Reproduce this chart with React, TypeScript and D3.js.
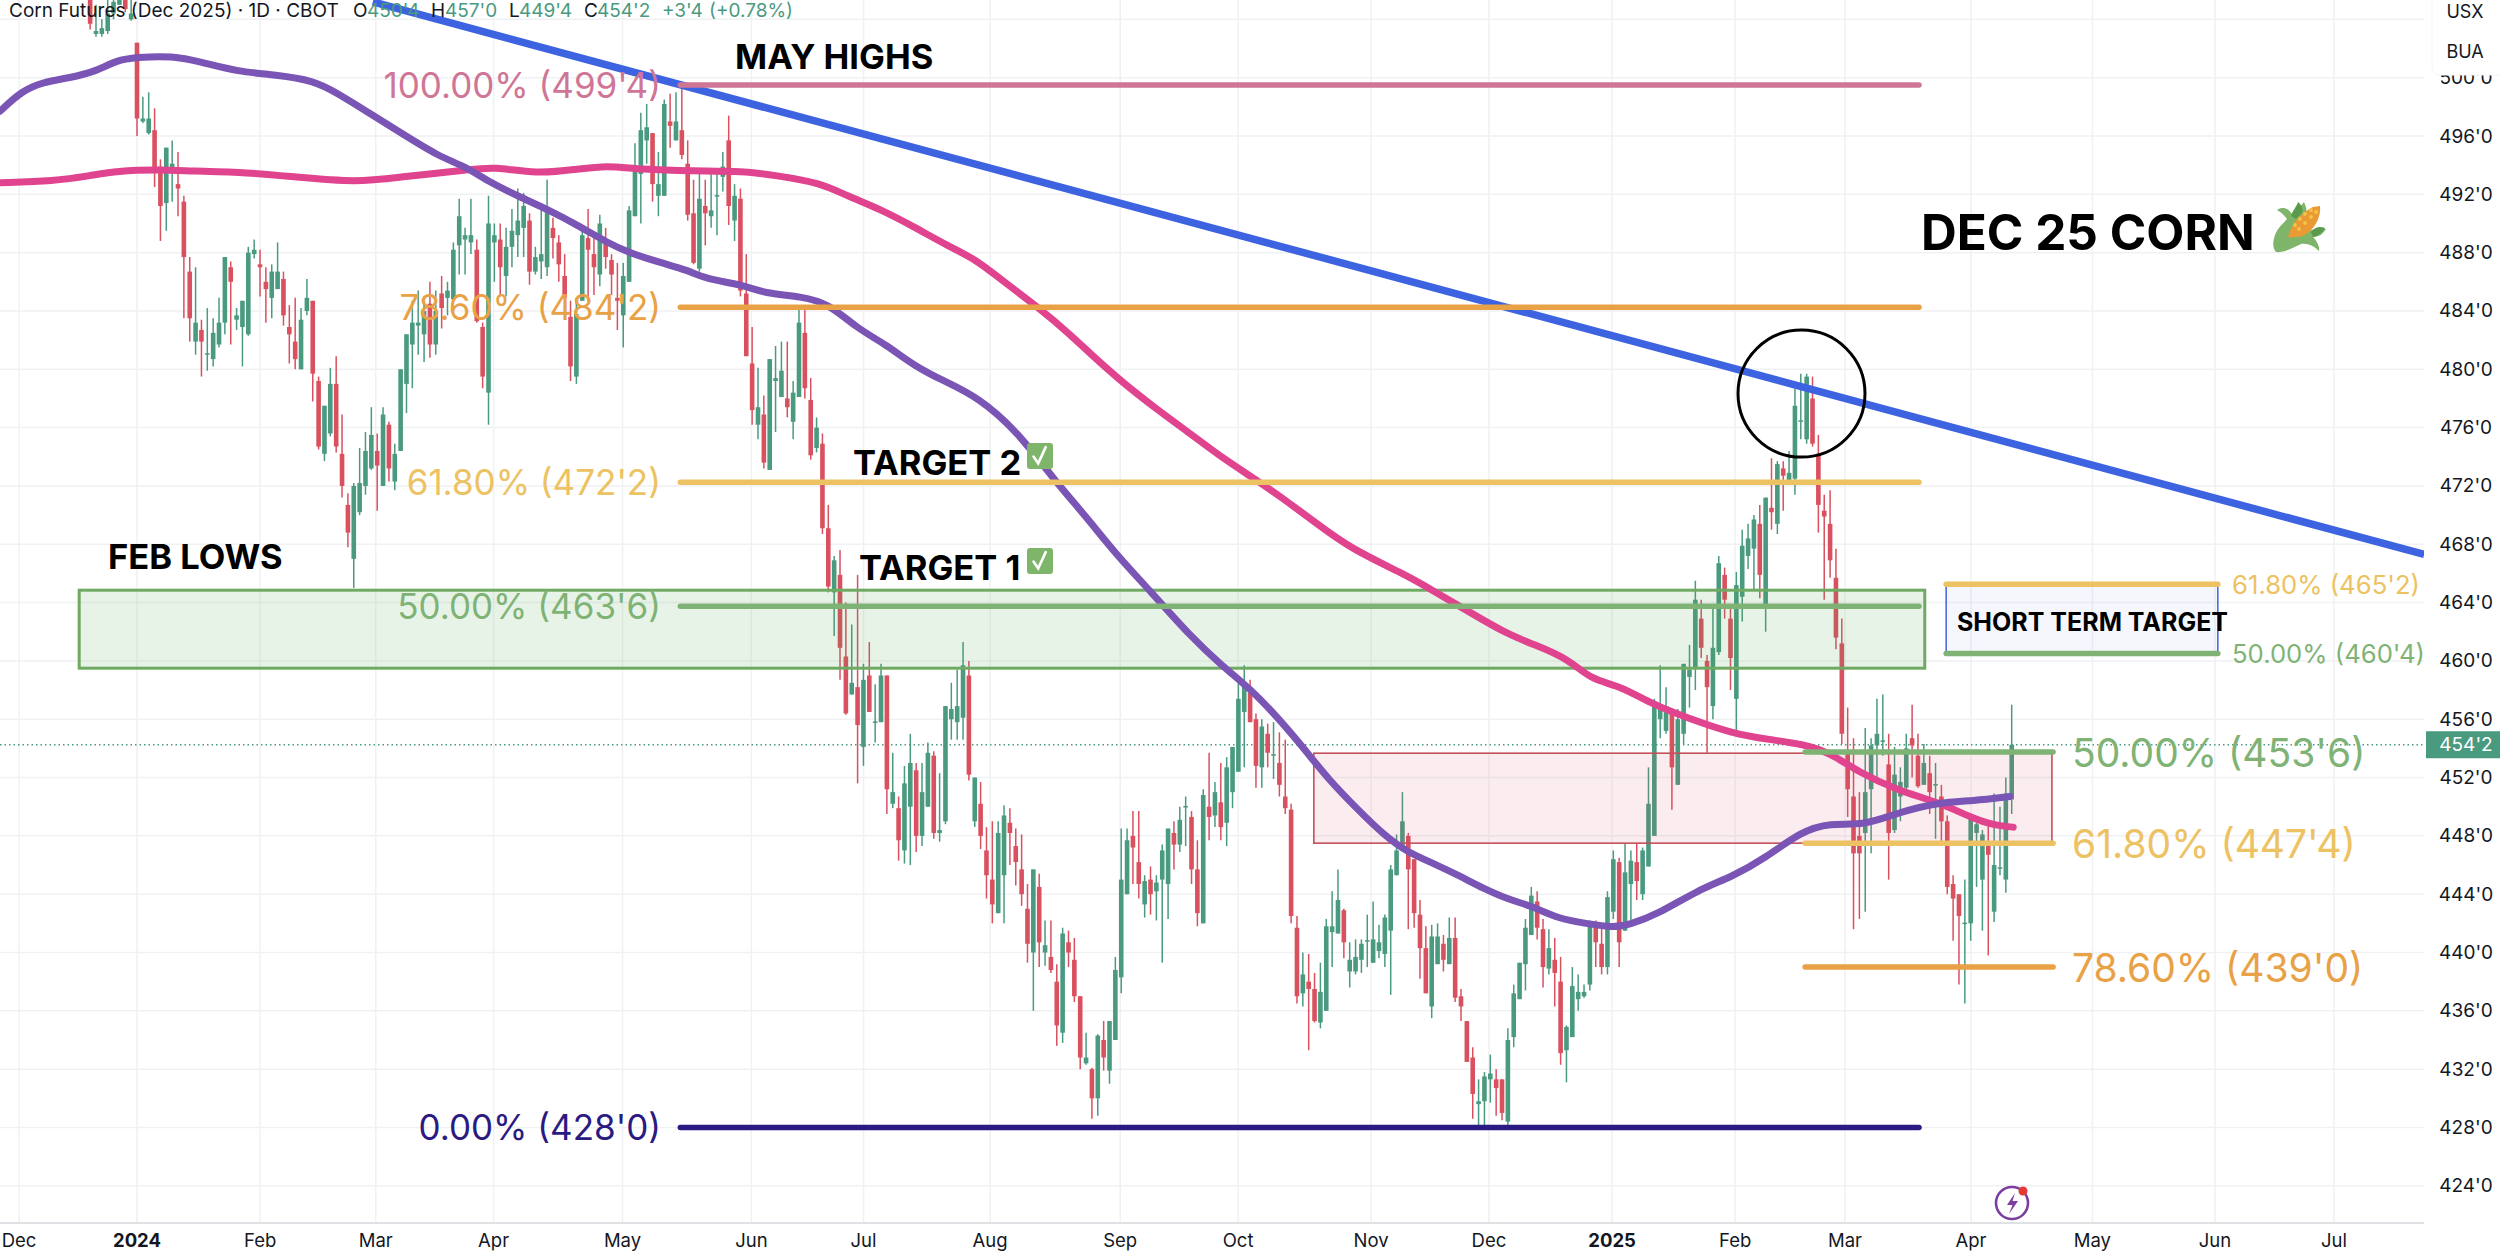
import React from "react";
import * as d3 from "d3";

type Bar = [number, number, number, number]; // open, high, low, close

const barsDec2023: Bar[] = [
  [506,507,503.3,503.7],[503,505,502.8,503.2],[503,504,502.8,503.4],[503.2,506,503,504.4],
  [504.4,506,504,505.2],[505,508,505,507],[506.5,507,504.5,504.7],[504,506,503.9,504.4],
];
const barsJanMar2024: Bar[] = [
  [502.4,502.4,496,497.2],[497,498.7,496.9,497.2],[496.2,499,496.1,497.2],[496.4,497.9,492.5,493.5],
  [493.9,494.4,488.8,491.2],[491.4,495.2,489.5,495.2],[493.5,495.7,491.5,494.1],[492.7,494.9,490.5,492.4],
  [491.5,491.9,483.5,487.7],[486.7,487.7,481.9,483.5],[481.9,487,481,483.2],[482.7,483.4,479.5,481.9],
  [481,484.2,479.9,481.1],[480.7,483.5,480.2,482.5],[481.7,484.9,481.5,483.2],[483.2,487.7,482.4,487.7],
  [487,487.4,481.7,486],[483.4,484.2,482.7,483.7],[482.9,484.7,480.2,484.7],[482.4,488.4,482.3,488],
  [487.9,488.9,487.6,488.2],[487.2,488.2,485,487],[486,487,483.2,485.5],[484.9,487.2,483.5,486.7],
  [485.5,488.7,485.5,486.7],[486.2,486.7,483,483.7],[482.9,484.4,480.4,482.4],[481.9,484.9,480,480.7],
  [480,484.2,480,483.4],[484,486.2,483.7,484.9],[484.7,484.7,477.8,479.7],[479.2,479.5,474.5,474.7],
  [474.2,477.5,473.7,477.5],[475.6,480.1,475.4,479],[479,480.9,474.3,474.7],[474.2,476.9,471.2,472],
  [470.7,471.5,467.8,468.8],[467,472.2,465,472],[470.2,474.6,470,472.2],[472,475.7,471.4,474.4],
  [473.2,477.4,473.1,475.5],[474.4,475.6,470.3,473.4],[472,477.4,472,476.9],[476.2,476.4,472.3,473.2],
  [472.3,474.9,471.7,474.2],[474.4,480,474.4,480],[479,482.4,477,482.4],[481.7,484.7,478.7,483.2],
  [483,485.4,481,483.2],[482.4,485,480.5,484],[484.5,486,480.8,481.7],[481.7,485.4,481,484],
  [485.2,486.4,482.8,484.2],[484.9,486,483.7,485.4],[484.8,488.7,484.8,488.2],[488.5,491.7,486.5,490.5],
];
const barsAprMay2024: Bar[] = [
  [488.9,489.7,486.5,489.2],[488.7,491.7,487.9,489.2],[488.2,488.9,483.2,483.3],[482.9,483.2,478.7,479.5],
  [478.4,491.9,476.2,490],[488.7,490,486,489.2],[488.9,490,485,487],[486.4,489.7,485,488.4],
  [488.4,491,487,489.5],[489.2,492.4,487.7,490.2],[489.7,492.1,487.7,491.2],[490.2,490.7,485.8,486.7],
  [486.7,488.4,486.5,487.7],[487.4,491,486.2,487.9],[487,493,486.4,491.1],[489.7,490.4,487.6,489],
  [488.7,489.2,486,487.2],[486.4,487.9,484,484.9],[483.6,484.7,479.2,480.2],[479.5,484.9,479,483.8],
  [484.7,489.7,484.7,489.2],[489,491,484.7,488.2],[487.9,489.4,485.1,487],[486.5,490.6,485.7,490],
  [488.6,489.7,486.9,487.7],[487.5,487.9,485.1,486.5],[484.9,487.3,482.7,484.7],[483.7,487.3,481.5,486.4],
  [486,491.2,486,490.9],[490.5,495.5,490.5,494],[493.4,497.6,490,496.4],[495.7,498.2,494.1,496.6],
  [496.2,496.2,491.5,492.7],[491.9,494.9,490.5,492.7],[491.9,498.5,491.9,498.2],[497,498.9,495.2,496.7],
  [495.7,499,495.7,497],[496.4,499.5,494.4,494.7],[494.1,495.7,490.2,490.6],[490.7,493,487.2,487.3],
  [486.9,493.4,486.7,491.7],[491.2,493,488.5,490.7],[490.5,493.4,489.7,490.9],[491.9,493.4,489.2,491.95],
  [493.2,494.9,492.2,493.9],[495.7,497.4,489.9,491.2],[490.2,492.7,488.8,491.9],[491.7,492.4,485,485.4],
];
const barsJunJul2024: Bar[] = [
  [485.2,487.9,480.9,480.9],[480.4,482.9,476.2,477.2],[476.2,480.1,475.2,477.4],[476.9,478.2,473.2,473.6],
  [473.1,480.7,473.1,480.7],[479.2,481.6,475.7,479.4],[478.1,481.9,478.1,479.9],[478,481.9,476.7,477.4],
  [476.4,479.2,475.2,478.4],[478.1,484.4,478.1,483.2],[482.5,484.4,478,478.7],[477.9,479.4,473.8,474.1],
  [474.6,476.7,474.3,476],[474.9,475.6,468.7,469.1],[469.1,470.7,464.7,465.1],[464.7,467.2,461.7,466.9],
  [465.9,467.6,458.7,460.9],[460.3,464,456.3,456.4],[457.7,462.5,457.7,458.5],[458.2,465.9,451.6,455.6],
  [454.1,459.8,452.8,458.7],[459,461.3,456.5,456.5],[455.8,458.4,454.4,455.85],[455.8,459.8,455.8,459],
  [459,459,449.5,451.2],[450.2,453.7,449.9,451],[449.9,450.7,446.3,447.7],[447,452.8,446.1,451.6],
  [450,455,446,453],[452.5,453,446.9,448],[448,453,447.3,451],[450,454.4,450,453.7],
  [453.5,453.8,447.8,448.2],[448.2,452.3,447.6,448.4],[449,456.9,448.8,456.9],[456,458.5,454.6,456.7],
  [455.8,459.4,454.6,456.9],[456.1,461.3,454.6,459.7],[459,460,451.8,452.2],[449,452,448.6,452],
];
const barsAugSep2024: Bar[] = [
  [450.2,451.7,447.1,448],[447,448.6,443.7,445.3],[445,449,442,443.3],[442.7,449,442.7,448.2],
  [445.3,450.1,442,449.4],[448.9,449.9,446,448.2],[447.3,448.5,444.6,446.2],[445.7,448.1,443.2,444],
  [443,444.7,439.3,440.6],[440,445.7,436,445.7],[444.5,445.4,439,440.7],[440,442.2,439.1,440.5],
  [439.7,442.2,438.6,438.8],[438,439.2,433.6,435],[434.5,441.7,433.8,441.3],[440.7,441.5,439,440],
  [439.5,441,436.6,437],[437,437,432,432.8],[432.4,434.5,432.3,432.8],[432,432.1,428.6,430],
  [430,434.4,428.8,434.3],[434,435.3,431.9,432.8],[431.9,435.3,431,435.3],[434,439.7,434,438.8],
  [438.3,448.5,437.2,445],[444,448.5,444,447.7],[448,449.7,444.7,447.2],[446.2,449.7,443.7,444.7],
  [443.3,445.3,442.4,444.9],[445,445.9,442.6,444],[444.2,445.3,442.2,444.8],[445,447.4,439.3,447],
  [444.7,448.5,442.3,448.5],[448.2,449,445.7,447.4],[447.4,450,446.9,449.1],[450,450.7,447.3,450.05],
  [449.3,449.7,444.7,445.7],[445.7,447.7,441.8,442.7],[442,451.2,442,450.8],[450,453.7,447.7,449.3],
  [449.4,451.7,448.6,451],[450.3,453,447.7,448.6],[448.9,453.4,447.3,452.7],[451,454.1,449.9,454.1],
];
const barsOctNov2024: Bar[] = [
  [452.4,458.7,452.4,457.4],[456.5,459.7,452.7,458.4],[457.8,458.7,455.8,455.8],[456,456.4,451.3,452.8],
  [452.7,456,451.3,455.5],[455,455.7,452.7,453.7],[453.5,455.8,451.9,453.6],[453,455.1,450.7,451.5],
  [450.7,454.6,449.5,449.9],[449.8,450.2,442,442.5],[441.7,442.5,436.5,437],[437.2,440,436.3,438.5],
  [438,439.9,433.3,437.5],[437.5,438.6,435.2,435.3],[435.2,439.3,434.8,437.3],[436,442.3,436,441.8],
  [441.4,444.2,439,441.8],[441.3,445.7,441.3,443.6],[442.9,443,439.6,440.7],[438.7,440.7,437.6,439.5],
  [438.7,440.9,438.5,439.7],[439.5,440.9,438.6,440.6],[440.8,442.6,439,440.85],[439.3,443.5,439.3,440.9],
  [440.1,441.9,439.6,440.7],[439.9,442.6,439,442.4],[441.5,446,437.1,445.7],[445.3,448.1,445.3,447],
  [447,451,447,449],[448,448.2,441.6,445.7],[446.4,446.4,441.7,442.7],[442.6,443.6,438.2,440.3],
  [440.3,441.8,437.2,437.2],[436.3,441.9,435.5,441.1],[439.2,442,439.2,441.1],[440.6,441.2,438.7,439.5],
  [439.2,442.4,439.2,441],[441,442.4,436.6,436.9],[437,437.5,435.3,436.3],[435.3,435.3,432.5,432.5],
  [432.8,433.5,428.6,430.3],[429.6,431.3,428,429.8],
];
const barsDecJan2025: Bar[] = [
  [429.8,431.8,428,431.5],[431.3,433,429.7,431.7],[431.3,432,428.8,430.7],[431.3,431.3,428.5,429],
  [428.4,434.8,428,434],[434.2,437.8,433.5,437.2],[436.8,439.3,436.8,439.3],[439.2,442.3,437.4,441.7],
  [441.2,444.5,441.2,443.9],[443.5,444.2,440.9,441.7],[441.6,442.3,437.6,439],[438.9,441.6,438.5,440.3],
  [439.5,441,436.3,438.6],[438,439.7,432.3,433.1],[433.3,435,431.1,434.9],[434.2,439,434.2,437.7],
  [436.8,438.5,436,437.3],[437,437.8,436.9,437.3],[437.8,442.2,437.4,441.9],[441.7,442.2,439,440.7],
  [440.6,441.9,438.5,439],[439,444.2,438.5,443.8],[442.8,447,442.3,446.4],[446.2,446.5,439,440.7],
  [441.5,447.5,441.5,445.5],[444.7,447,442.2,446.3],[446.2,447.5,443.6,444.9],[444,447.2,443.6,447],
  [445.9,452.7,445.9,450.2],[448,457.4,448,457.2],[456,459.7,454.7,457],[455.2,458.2,455,456.9],
  [456.5,456.7,449.8,452.7],[451.5,456.7,451.5,456],[455,459.8,454.3,459.8],[458.9,461.1,456.8,459.4],
  [459.5,465.5,458,464.2],[462.9,464.2,460.2,460.9],[460,460.4,453.7,458.2],
];
const barsFebApr2025: Bar[] = [
  [456.9,463.9,456,460.9],[460.6,467.2,460.4,466.7],[465.9,466.4,462.9,464.2],[462.9,463.9,458,460.2],
  [457.4,466.1,455,465.2],[464.4,469,462.7,467.9],[467.2,469.4,466.3,468.4],[467.7,470,464.8,469.7],
  [469.4,470.7,464.3,465.9],[463.9,471.2,462,471.2],[470.5,473.9,469,470.2],[469.4,473.7,468.7,473.5],
  [473.2,473.7,470.3,472.7],[472.2,474.4,472.2,472.9],[472.5,478.7,471.4,477.5],[476.4,479.7,475.2,476.5],
  [475.2,479.7,474.9,479.5],[478,479.5,474.7,474.9],[474.2,475.5,468.8,470.7],[470.3,471.4,464.2,469.9],
  [469.4,471.7,465.7,466.9],[465.7,467.7,460.8,461.6],[461.2,462.9,454.3,455],
  [453.9,456.8,449.3,451.2],[450.7,454.7,441.6,446.8],[448,451,442.3,446.8],[448.2,455.4,442.8,451],
  [451.2,454.7,446.8,454.2],[454.2,457.4,451.6,455],[454.5,457.7,453.5,454.55],[452.9,455,445,448.2],
  [448.4,454.1,448.2,452.2],[450.7,452.7,449,451.7],[451.3,455,451.1,454],[454.7,457,452,454.2],
  [453.5,455,451.3,451.4],[451.5,454.3,451.5,453],[452.3,453.5,449.5,451],[451.5,453,447.8,451.55],
  [450.7,451.5,447.3,449],[449,449.4,444,444.5],[444.7,445.3,440.8,443.7],[444,444,437.8,442.5],
  [442,445,436.5,442.05],[442,449.4,440.8,449.4],[448.2,448.9,444.5,448.8],[445,448.4,441.5,448.1],
  [447.6,448.7,439.8,446.7],[442.8,450.9,442.1,446],[445.8,450,445.3,445.85],[445,452,444.1,450.9],
  [450.5,457,449.5,454.25],
];
const allBars: Bar[] = [
  ...barsDec2023, ...barsJanMar2024, ...barsAprMay2024, ...barsJunJul2024,
  ...barsAugSep2024, ...barsOctNov2024, ...barsDecJan2025, ...barsFebApr2025,
];

// moving averages: timeline position, value
const purpleMA: [number, number][] = [
  [-15.7,497.7],[-11.9,499.1],[-8.3,499.7],[-3.6,500],[0.7,500.4],[4.5,501.2],[7.8,501.4],[14.2,501.5],[18.9,501.1],
  [25.5,500.4],[32,500.2],[38.6,499.8],[42.4,499],[48.1,497.6],[53.7,496.2],[60.2,494.6],[64.9,493.9],[68.7,492.9],
  [74.3,491.8],[78.9,491],[84.6,489.8],[89.3,488.7],[93.1,488],[98.7,487.3],[103.3,486.8],[106.3,486.2],[112.8,485.8],
  [116.5,485.2],[123,485],[127.7,484.5],[132.6,482.8],[137.6,481.7],[142.6,480.2],[147.6,479.2],[153.5,478.1],
  [160.4,475.7],[166.5,472.5],[172.4,469.8],[177.4,467.3],[183.3,464.8],[190.2,461.7],[195.9,459.6],[200.6,458.1],
  [206.1,455.8],[210.9,453.5],[214.1,451.9],[219.2,449.8],[223.9,448],[227.7,446.9],[232.4,446.1],[237.1,445.2],
  [240.9,444.4],[245.5,443.6],[249.3,443.2],[254,442.3],[258.7,442],[263.4,441.7],[266.1,441.9],[271,442.6],
  [278.1,444.3],[284,445.2],[289.8,446.5],[295.9,448.3],[300.9,448.9],[306.8,448.7],[312.7,449.6],[319.8,450.3],
  [325.6,450.4],[332,450.7],
];
const pinkMA: [number, number][] = [
  [-15.7,492.8],[-6.4,492.9],[0.2,493.3],[4.5,493.6],[11.5,493.7],[17.2,493.6],[27.4,493.5],[35,493.2],[46.2,492.8],
  [53.7,493.2],[66,493.7],[69.6,493.9],[77.2,493.4],[83.8,493.7],[89.3,494],[95,493.7],[104.4,493.6],[112.8,493.6],
  [118.4,493.3],[126.2,492.8],[130.8,491.9],[136.5,491],[142.3,489.8],[148.1,488.5],[153.3,487.5],[157.3,486.2],
  [164.4,484.1],[169.4,482.4],[173.4,480.9],[178.2,479.2],[184.3,477.3],[190.2,475.6],[196.2,473.8],[202.1,472.3],
  [207.1,470.9],[212.2,469.4],[218,467.7],[227,466],[231.9,464.9],[237.9,463.5],[245.2,461.8],[249.9,461.1],
  [255.8,460.1],[259.6,458.7],[264.6,458.3],[270.3,457],[276.2,456.1],[284.1,455],[290.5,454.6],[296.2,454.3],
  [300.9,453.7],[305.7,452.4],[312.7,451.1],[319.8,450.3],[325.6,449.2],[329.6,448.7],[332.6,448.6],
];
const trendline: [number, number][] = [[48.8,505.2],[403.7,467.3]];

const priceTicks = [424,428,432,436,440,444,448,452,456,460,464,468,472,476,480,484,488,492,496,500,504];
const monthLabels = ["Dec","2024","Feb","Mar","Apr","May","Jun","Jul","Aug","Sep","Oct","Nov","Dec","2025","Feb","Mar","Apr","May","Jun","Jul"];
const monthPositions = [-12.4,8,29.3,49.3,69.7,92,114.3,133.7,155.6,178.1,198.5,221.5,241.9,263.2,284.5,303.5,325.3,346.3,367.5,388.1];

const mainFibs = [
  { label: "100.00% (499'4)", value: 499.5, color: "#cf7596" },
  { label: "78.60% (484'2)", value: 484.25, color: "#e9a146" },
  { label: "61.80% (472'2)", value: 472.25, color: "#ecc262" },
  { label: "50.00% (463'6)", value: 463.75, color: "#7fb375" },
  { label: "0.00% (428'0)", value: 428, color: "#2a1a82" },
];
const mainFibSpan = [102, 316.3];
const lowerFibs = [
  { label: "50.00% (453'6)", value: 453.75, color: "#7fb375" },
  { label: "61.80% (447'4)", value: 447.5, color: "#ecc262" },
  { label: "78.60% (439'0)", value: 439, color: "#e9a146" },
];
const lowerFibSpan = [296.6, 339.5];
const shortFibs = [
  { label: "61.80% (465'2)", value: 465.25, color: "#ecc262" },
  { label: "50.00% (460'4)", value: 460.5, color: "#7fb375" },
];
const shortFibSpan = [321, 368];
const greenZone = { x: [-2, 317.3], y: [464.85, 459.5] };
const redZone = { x: [211.6, 339.3], y: [453.67, 447.5] };
const lastPrice = 454.25;
const headerParts = [
  { t: "Corn Futures (Dec 2025) · 1D · CBOT", x: 9, c: "#131722" },
  { t: "O", x: 353, c: "#131722" }, { t: "450'4", x: 367, c: "#4a9a80" },
  { t: "H", x: 431, c: "#131722" }, { t: "457'0", x: 445, c: "#4a9a80" },
  { t: "L", x: 509, c: "#131722" }, { t: "449'4", x: 519, c: "#4a9a80" },
  { t: "C", x: 584, c: "#131722" }, { t: "454'2", x: 597, c: "#4a9a80" },
  { t: "+3'4", x: 662, c: "#4a9a80" }, { t: "(+0.78%)", x: 709, c: "#4a9a80" },
];

const W = 2500, H = 1253;
const GREEN = "#4a9a80", RED = "#d9505f";
const FONT = "Inter, 'Noto Sans', sans-serif";

const y = d3.scaleLinear().domain([480, 424]).range([369.3, 1185.8]);
const tx = d3.scaleLinear().domain([8, 332.34]).range([137, 2011.7]); // timeline
const bx = d3.scaleLinear().domain([8, allBars.length - 1]).range([137, 2011.7]); // bars
const plotRight = 2424, axisY = 1223;

function Label(p: { x: number; y: number; t: string; size: number; fill?: string; weight?: number; anchor?: string }) {
  return (
    <text x={p.x} y={p.y} fontFamily={FONT} fontSize={p.size} fontWeight={p.weight ?? 400}
      fill={p.fill ?? "#000"} textAnchor={(p.anchor ?? "start") as any} dominantBaseline="central">{p.t}</text>
  );
}

function Check({ x0, y0, s }: { x0: number; y0: number; s: number }) {
  return (
    <g transform={`translate(${x0},${y0})`}>
      <rect width={s} height={s} rx={3} fill="#7fb56a" />
      <path d={`M${s * 0.25} ${s * 0.52} L${s * 0.43} ${s * 0.78} L${s * 0.72} ${s * 0.16}`} fill="none" stroke="#fff" strokeWidth={2.6} strokeLinecap="round" />
    </g>
  );
}

function Corn() {
  return (
    <g transform="translate(2273,201)">
      <path d="M4 9 C10 5 16 7 20 15 C24 8 28 5 31 1 C33 6 34 8 33 11 L20 35 C28 32 36 30 42 28 L53 28 C50 33 46 36 40 36 C44 40 47 46 46 50 C40 44 34 42 28 43 C20 47 10 52 3 51 C-1 46 0 40 2 34 C5 26 11 22 14 18 C11 14 8 11 4 9 Z" fill="#7fb56a" />
      <path d="M15 36 C18 24 26 13 40 6 L47 5 C48 14 44 24 36 31 C30 36 22 37 15 36 Z" fill="#ea9a35" />
      {[[22,24],[27,18],[32,13],[38,9],[26,28],[32,22],[38,16],[43,11]].map(([a,b],i)=>(
        <circle key={i} cx={a} cy={b} r={1.9} fill="#f3c445" />
      ))}
      <path d="M18 15 C20 9 24 5 25 1 C29 4 30 8 29 12 L23 18 Z" fill="#5b9a4c" />
      <path d="M38 31 C42 26 46 25 52 27 C50 31 45 35 40 36 Z" fill="#5b9a4c" />
    </g>
  );
}

export default function App() {
  const maLine = d3.line<[number, number]>().x(d => tx(d[0])).y(d => y(d[1])).curve(d3.curveBasis);
  const straight = d3.line<[number, number]>().x(d => tx(d[0])).y(d => y(d[1]));
  const bodyW = 4.6;
  return (
    <svg width={W} height={H} viewBox={`0 0 ${W} ${H}`} style={{ position: "fixed", left: 0, top: 0, background: "#fff" }}>
      {/* grid */}
      <g stroke="#f0f1f3" strokeWidth={1.5}>
        {priceTicks.map(v => <line key={v} x1={0} x2={plotRight} y1={y(v)} y2={y(v)} />)}
        {monthPositions.map((m, i) => <line key={i} x1={tx(m)} x2={tx(m)} y1={0} y2={axisY} />)}
      </g>
      <line x1={0} x2={W} y1={axisY} y2={axisY} stroke="#dfe1e5" strokeWidth={2} />

      {/* last price dotted line */}
      <line x1={0} x2={plotRight} y1={y(lastPrice)} y2={y(lastPrice)} stroke={GREEN} strokeWidth={1.5} strokeDasharray="1.5 3" />

      {/* candles */}
      <g>
        {allBars.map((b, i) => {
          const [o, h, l, c] = b;
          const col = c >= o ? GREEN : RED;
          const xc = bx(i);
          const top = y(Math.max(o, c)), bot = y(Math.min(o, c));
          return (
            <g key={i}>
              <line x1={xc} x2={xc} y1={y(h)} y2={y(l)} stroke={col} strokeWidth={1.5} />
              <rect x={xc - bodyW / 2} y={top} width={bodyW} height={Math.max(bot - top, 1.5)} fill={col} />
            </g>
          );
        })}
      </g>

      {/* zones */}
      <rect x={tx(greenZone.x[0])} y={y(greenZone.y[0])} width={tx(greenZone.x[1]) - tx(greenZone.x[0])}
        height={y(greenZone.y[1]) - y(greenZone.y[0])} fill="#4f9f4a" fillOpacity={0.13} stroke="#6faa63" strokeWidth={3} />
      <rect x={tx(redZone.x[0])} y={y(redZone.y[0])} width={tx(redZone.x[1]) - tx(redZone.x[0])}
        height={y(redZone.y[1]) - y(redZone.y[0])} fill="#d9505f" fillOpacity={0.1} stroke="#c4505c" strokeWidth={1.6} />
      <rect x={tx(shortFibSpan[0])} y={y(shortFibs[0].value)} width={tx(shortFibSpan[1]) - tx(shortFibSpan[0])}
        height={y(shortFibs[1].value) - y(shortFibs[0].value)} fill="#3d63e0" fillOpacity={0.05} stroke="#3d63e0" strokeWidth={1.5} />

      {/* moving averages and trendline */}
      <g fill="none" strokeLinecap="round" strokeLinejoin="round">
        <path d={maLine(pinkMA) ?? ""} stroke="#e0448f" strokeWidth={7} />
        <path d={maLine(purpleMA) ?? ""} stroke="#7a55b5" strokeWidth={7} />
        <path d={straight(trendline) ?? ""} stroke="#3d63e0" strokeWidth={7.5} strokeLinecap="butt" />
      </g>

      {/* fib lines */}
      <g strokeLinecap="round">
        {mainFibs.map(f => <line key={f.label} x1={tx(mainFibSpan[0])} x2={tx(mainFibSpan[1])} y1={y(f.value)} y2={y(f.value)} stroke={f.color} strokeWidth={5.5} />)}
        {lowerFibs.map(f => <line key={f.label} x1={tx(lowerFibSpan[0])} x2={tx(lowerFibSpan[1])} y1={y(f.value)} y2={y(f.value)} stroke={f.color} strokeWidth={5.5} />)}
        {shortFibs.map(f => <line key={f.label} x1={tx(shortFibSpan[0])} x2={tx(shortFibSpan[1])} y1={y(f.value)} y2={y(f.value)} stroke={f.color} strokeWidth={5.5} />)}
      </g>

      {/* fib labels */}
      {mainFibs.map(f => <Label key={f.label} x={661} y={y(f.value)} t={f.label} size={35} fill={f.color} anchor="end" />)}
      {lowerFibs.map(f => <Label key={f.label} x={2072} y={y(f.value)} t={f.label} size={39} fill={f.color} />)}
      {shortFibs.map(f => <Label key={f.label} x={2232} y={y(f.value)} t={f.label} size={25.7} fill={f.color} />)}

      {/* annotations */}
      <Label x={735} y={56} t="MAY HIGHS" size={34.5} weight={700} />
      <Label x={108} y={556} t="FEB LOWS" size={34.5} weight={700} />
      <Label x={853} y={462} t="TARGET 2" size={34.5} weight={700} />
      <Label x={859} y={567} t="TARGET 1" size={34.5} weight={700} />
      <Check x0={1027} y0={443} s={26} />
      <Check x0={1027} y0={548} s={26} />
      <Label x={1957} y={622} t="SHORT TERM TARGET" size={25} weight={700} />
      <Label x={1921} y={232} t="DEC 25 CORN" size={49.5} weight={700} />
      <Corn />

      <ellipse cx={1801.5} cy={393.6} rx={63.5} ry={63.5} fill="none" stroke="#000" strokeWidth={3} />

      {/* lightning icon */}
      <g>
        <circle cx={2012} cy={1203} r={16} fill="#fff" stroke="#7b3fa0" strokeWidth={2.6} />
        <path d="M2015 1193 L2007 1205 L2012.5 1205 L2009 1214 L2018 1201 L2012.5 1201 Z" fill="#7b3fa0" />
        <circle cx={2023} cy={1191} r={4.5} fill="#e53935" />
      </g>

      {/* price axis */}
      <rect x={plotRight} y={0} width={W - plotRight} height={H} fill="#fff" />
      {priceTicks.filter(v => v < 504).map(v => <Label key={v} x={2466} y={y(v)} t={`${v}'0`} size={19} fill="#131722" anchor="middle" />)}
      <rect x={2432} y={-10} width={80} height={85} rx={8} fill="#fff" stroke="#f4f4f6" strokeWidth={1} />
      <Label x={2465} y={11} t="USX" size={18} fill="#131722" anchor="middle" />
      <Label x={2465} y={51} t="BUA" size={18} fill="#131722" anchor="middle" />
      <rect x={2426} y={y(lastPrice) - 13.5} width={74} height={27} fill={GREEN} />
      <Label x={2466} y={y(lastPrice)} t="454'2" size={19} fill="#fff" anchor="middle" />

      {/* time axis */}
      {monthLabels.map((m, i) => (
        <Label key={i} x={tx(monthPositions[i])} y={1240} t={m} size={18.5} fill="#131722" anchor="middle" weight={m.length === 4 ? 700 : 400} />
      ))}

      {/* header */}
      {headerParts.map((h, i) => <Label key={i} x={h.x} y={10} t={h.t} size={19} fill={h.c} />)}
    </svg>
  );
}
